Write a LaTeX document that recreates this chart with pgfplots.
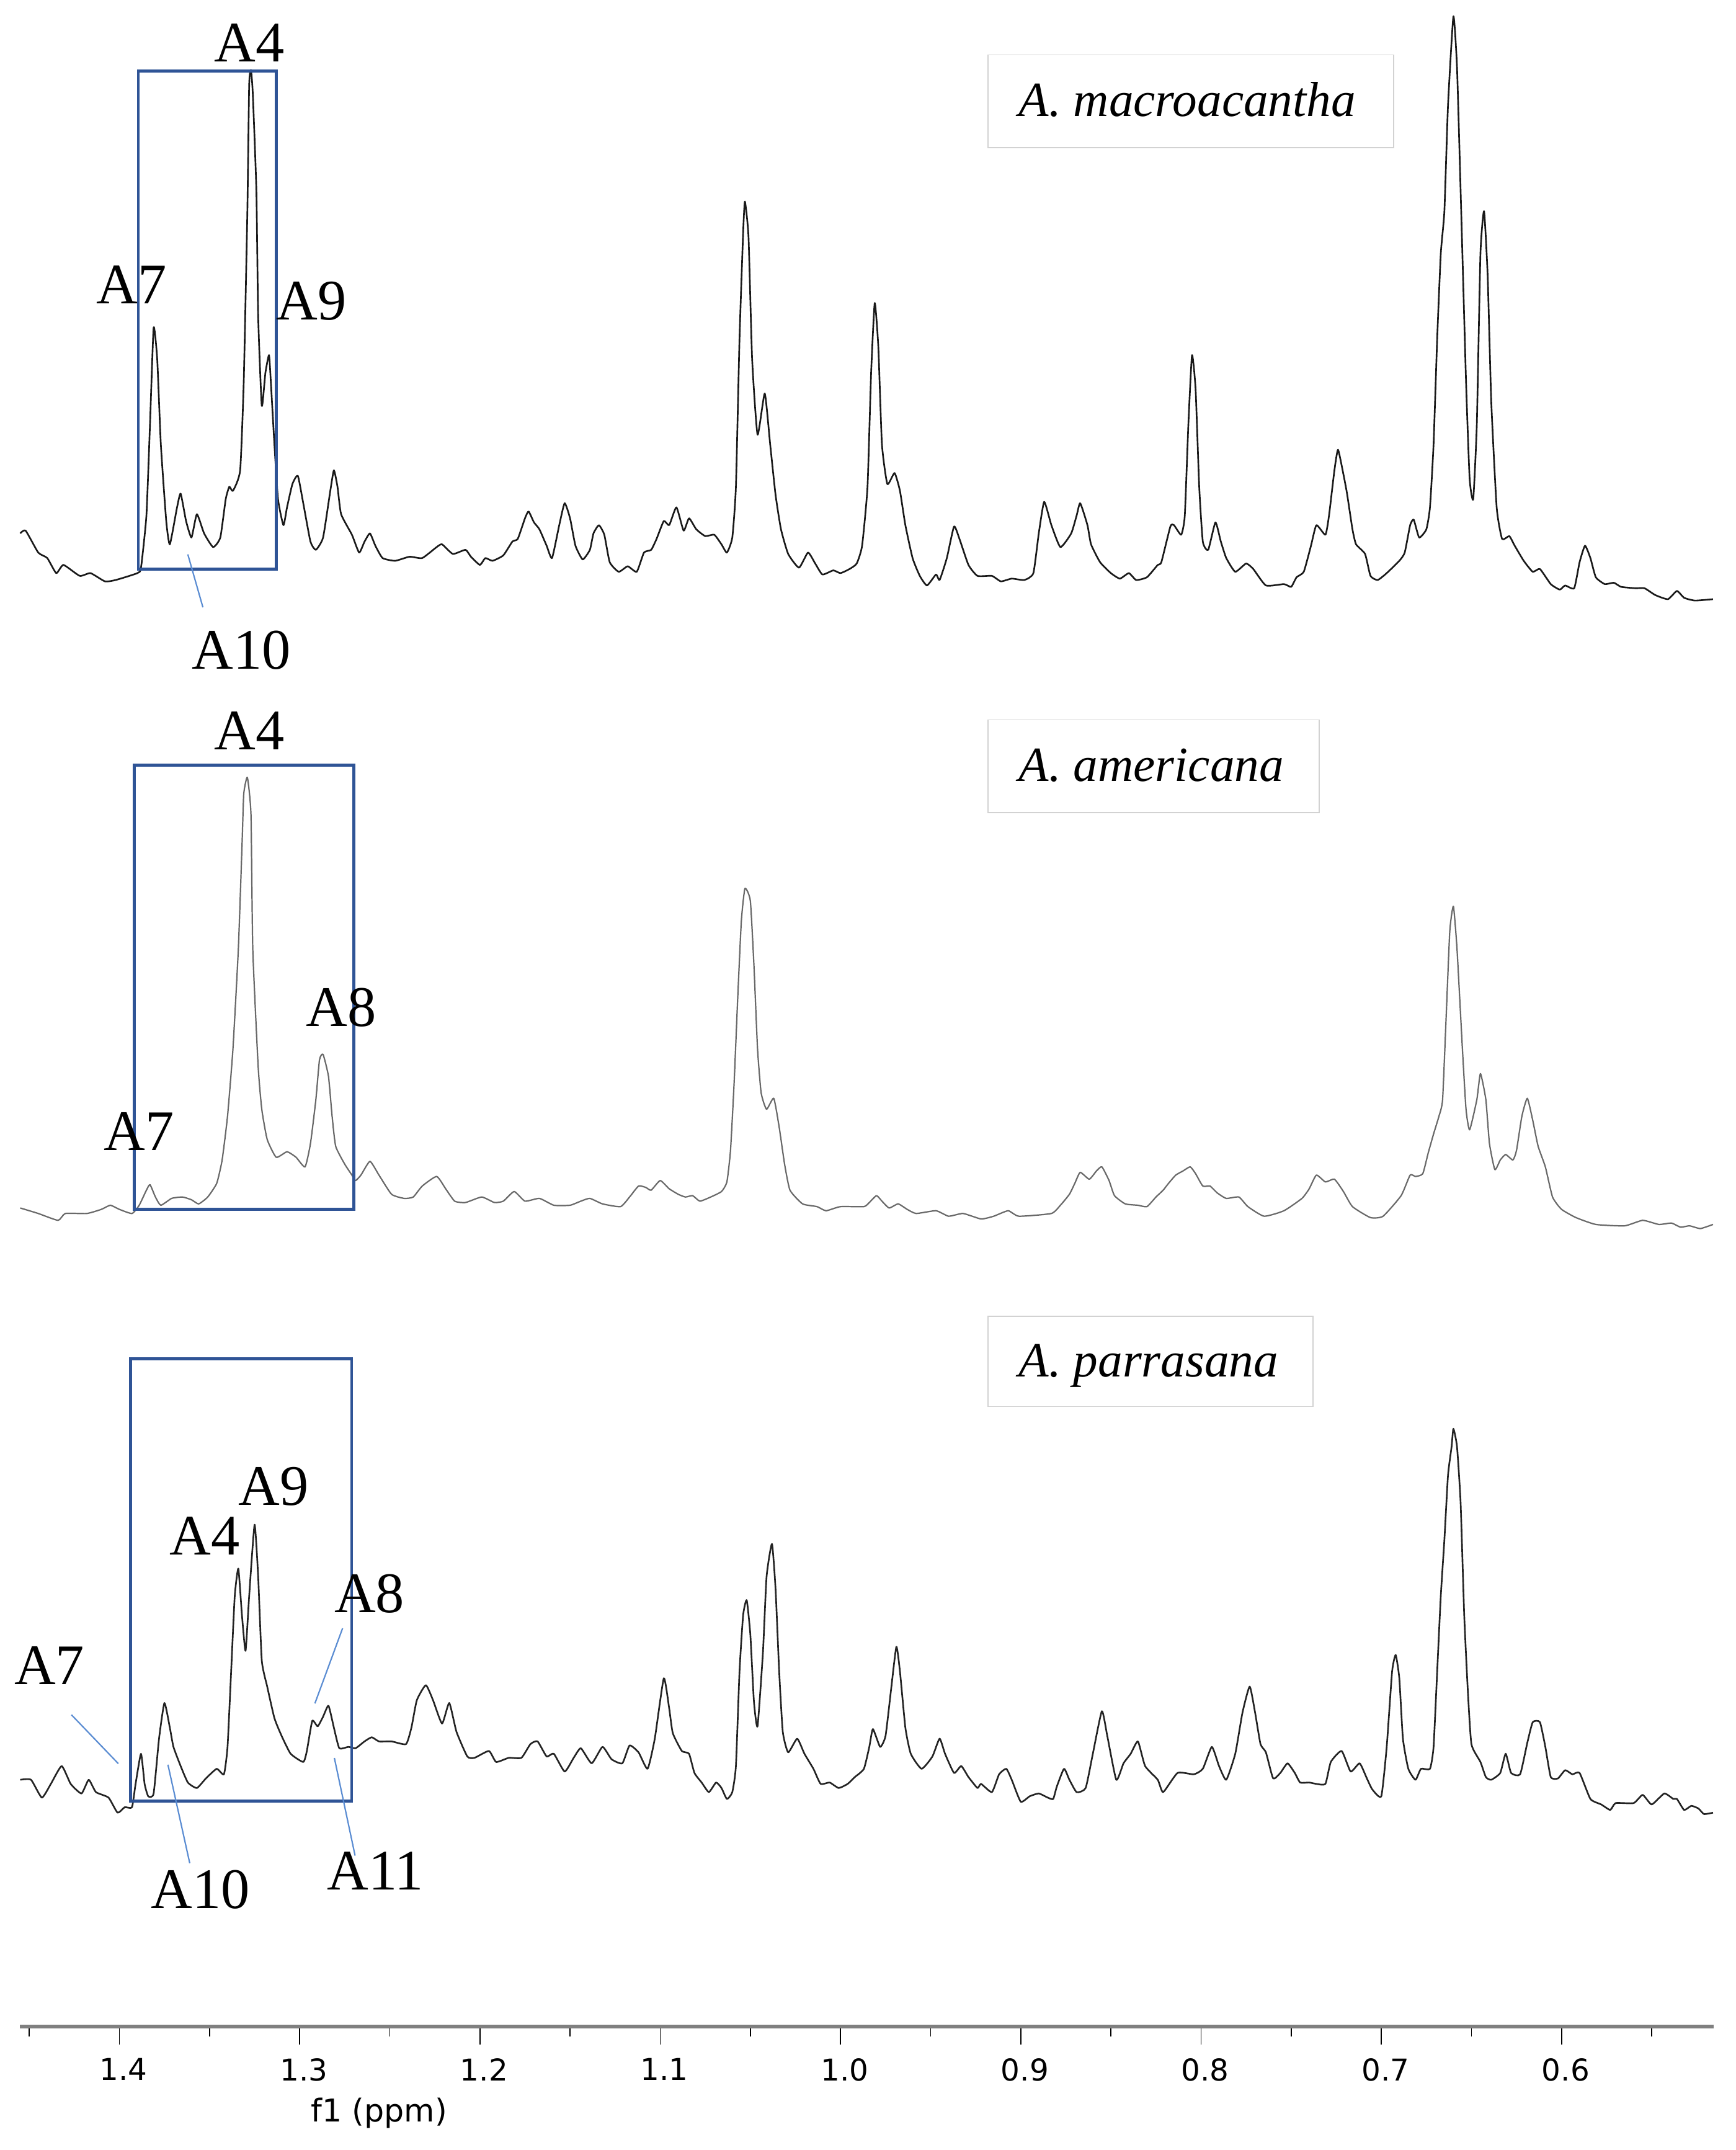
\documentclass[border=0pt]{standalone}
\usepackage{fontspec}
\setmainfont{Liberation Serif}
\newfontfamily\tickfont{DejaVu Sans}
\usepackage{pgfplots}
\pgfplotsset{compat=1.18}
\definecolor{boxblue}{RGB}{47,84,150}
\definecolor{leadblue}{RGB}{90,140,210}
\definecolor{spA}{RGB}{25,25,25}
\definecolor{spB}{RGB}{105,105,105}
\definecolor{spC}{RGB}{35,35,35}
\begin{document}
\begin{tikzpicture}
\begin{axis}[
  at={(7.25bp,45bp)}, anchor=south west,
  scale only axis, width=617.75bp, height=739bp,
  x dir=reverse, xmin=0.5156, xmax=1.4552, ymin=90, ymax=1568,
  clip=false,
  axis x line*=bottom, axis y line=none,
  x axis line style={draw=gray, line width=1.45bp, -},
  tick align=outside,
  xtick={1.4,1.3,1.2,1.1,1.0,0.9,0.8,0.7,0.6},
  xticklabels={1.4,1.3,1.2,1.1,1.0,0.9,0.8,0.7,0.6},
  minor xtick={1.45,1.35,1.25,1.15,1.05,0.95,0.85,0.75,0.65,0.55},
  major tick length=6.6bp, minor tick length=3.6bp,
  every tick/.style={black, line width=0.4bp},
  xticklabel style={font=\tickfont\fontsize{11}{11}\selectfont, xshift=1.5bp, yshift=-1.5bp},
  /pgf/number format/assume math mode=true,
  xlabel={f1 (ppm)},
  xlabel style={font=\tickfont\fontsize{11.5}{11.5}\selectfont, at={(axis description cs:0.2121,0)}, anchor=center, yshift=-31.5bp},
  every axis plot/.append style={smooth, tension=0.3, line join=round},
]
% A. macroacantha
\addplot[spA, line width=0.6bp] coordinates {
(1.455,1179) (1.452,1181) (1.445,1165) (1.440,1161) (1.435,1150) (1.431,1156) (1.422,1148) (1.416,1150) (1.408,1144) (1.402,1145)
(1.390,1150) (1.388,1154) (1.385,1192) (1.383,1259) (1.381,1329) (1.379,1306) (1.377,1244) (1.374,1188) (1.372,1171) (1.368,1198)
(1.366,1208) (1.363,1188) (1.360,1176) (1.357,1193) (1.353,1179) (1.348,1169) (1.344,1176) (1.341,1204) (1.339,1213) (1.337,1210)
(1.333,1225) (1.331,1290) (1.329,1414) (1.328,1506) (1.327,1517) (1.326,1500) (1.324,1429) (1.323,1337) (1.321,1272) (1.319,1296)
(1.317,1309) (1.316,1290) (1.314,1244) (1.312,1204) (1.309,1185) (1.307,1198) (1.304,1215) (1.301,1221) (1.298,1201) (1.294,1173)
(1.291,1167) (1.287,1176) (1.283,1210) (1.281,1225) (1.279,1213) (1.277,1193) (1.271,1178) (1.267,1165) (1.264,1173) (1.261,1179)
(1.258,1170) (1.254,1161) (1.247,1159) (1.239,1162) (1.232,1161) (1.224,1169) (1.221,1171) (1.215,1164) (1.208,1167) (1.205,1162)
(1.200,1156) (1.197,1161) (1.193,1159) (1.187,1163) (1.182,1173) (1.179,1175) (1.175,1190) (1.173,1195) (1.170,1187) (1.167,1182)
(1.163,1170) (1.160,1161) (1.156,1185) (1.153,1201) (1.150,1190) (1.147,1170) (1.143,1160) (1.139,1167) (1.137,1179) (1.134,1185)
(1.131,1178) (1.128,1158) (1.123,1151) (1.118,1155) (1.113,1151) (1.109,1165) (1.105,1167) (1.102,1175) (1.098,1188) (1.095,1185)
(1.091,1198) (1.087,1181) (1.084,1190) (1.080,1182) (1.075,1177) (1.070,1178) (1.066,1171) (1.063,1165) (1.060,1176) (1.058,1213)
(1.056,1321) (1.054,1398) (1.053,1421) (1.051,1395) (1.049,1306) (1.046,1251) (1.042,1281) (1.039,1244) (1.036,1207) (1.033,1182)
(1.029,1164) (1.023,1154) (1.018,1165) (1.014,1157) (1.010,1149) (1.004,1152) (1.000,1150) (0.995,1153) (0.991,1157) (0.988,1170)
(0.985,1213) (0.983,1296) (0.981,1347) (0.979,1315) (0.977,1244) (0.974,1215) (0.970,1223) (0.967,1210) (0.964,1185) (0.960,1161)
(0.956,1148) (0.952,1141) (0.947,1149) (0.945,1145) (0.941,1161) (0.937,1184) (0.934,1175) (0.929,1156) (0.924,1148) (0.916,1148)
(0.911,1144) (0.905,1146) (0.898,1145) (0.893,1150) (0.890,1179) (0.887,1202) (0.883,1185) (0.878,1169) (0.872,1179) (0.869,1192)
(0.867,1201) (0.863,1185) (0.861,1171) (0.856,1158) (0.850,1150) (0.845,1146) (0.840,1150) (0.836,1145) (0.830,1147) (0.824,1156)
(0.822,1158) (0.817,1184) (0.815,1185) (0.811,1178) (0.809,1192) (0.807,1259) (0.805,1309) (0.803,1284) (0.801,1213) (0.799,1173)
(0.796,1167) (0.792,1187) (0.789,1173) (0.786,1161) (0.781,1151) (0.775,1157) (0.771,1153) (0.764,1141) (0.754,1142) (0.750,1140)
(0.747,1147) (0.743,1151) (0.739,1170) (0.736,1185) (0.731,1178) (0.729,1192) (0.726,1225) (0.724,1240) (0.721,1222) (0.719,1208)
(0.716,1182) (0.714,1171) (0.709,1164) (0.706,1148) (0.702,1145) (0.697,1150) (0.690,1159) (0.687,1165) (0.684,1185) (0.682,1189)
(0.679,1176) (0.675,1182) (0.673,1198) (0.671,1244) (0.669,1321) (0.667,1383) (0.665,1414) (0.663,1491) (0.660,1556) (0.658,1519)
(0.656,1429) (0.653,1290) (0.651,1219) (0.649,1204) (0.647,1259) (0.645,1383) (0.643,1414) (0.641,1367) (0.639,1275) (0.636,1198)
(0.633,1175) (0.629,1177) (0.626,1170) (0.621,1159) (0.616,1151) (0.612,1153) (0.606,1142) (0.601,1138) (0.598,1141) (0.593,1139)
(0.590,1158) (0.587,1170) (0.584,1161) (0.581,1147) (0.576,1142) (0.571,1143) (0.567,1140) (0.559,1139) (0.554,1139) (0.548,1134)
(0.541,1131) (0.536,1137) (0.532,1132) (0.526,1130) (0.516,1131)
};
% A. americana
\addplot[spB, line width=0.5bp] coordinates {
(1.455,687) (1.445,683) (1.434,678) (1.430,683) (1.418,683) (1.410,686) (1.405,689) (1.400,686) (1.393,683) (1.389,689)
(1.385,700) (1.383,704) (1.380,695) (1.377,689) (1.371,694) (1.365,695) (1.360,693) (1.356,690) (1.351,695) (1.346,705)
(1.343,722) (1.340,754) (1.337,803) (1.334,876) (1.332,950) (1.331,989) (1.329,1001) (1.327,974) (1.326,876) (1.323,790)
(1.321,759) (1.318,737) (1.313,724) (1.307,728) (1.302,724) (1.297,717) (1.294,734) (1.291,766) (1.289,795) (1.287,799)
(1.284,783) (1.282,754) (1.280,732) (1.275,719) (1.271,711) (1.269,707) (1.266,711) (1.261,721) (1.256,711) (1.249,697)
(1.242,694) (1.237,695) (1.232,703) (1.224,710) (1.219,701) (1.214,692) (1.208,691) (1.199,695) (1.192,691) (1.187,692)
(1.181,699) (1.175,692) (1.167,694) (1.159,689) (1.150,689) (1.144,692) (1.139,694) (1.132,690) (1.122,688) (1.117,695)
(1.112,703) (1.108,702) (1.105,700) (1.100,707) (1.095,701) (1.090,697) (1.086,695) (1.082,696) (1.078,692) (1.072,695)
(1.066,699) (1.063,706) (1.061,729) (1.059,778) (1.057,840) (1.055,896) (1.053,920) (1.050,911) (1.048,864) (1.046,803)
(1.044,771) (1.041,759) (1.037,767) (1.034,746) (1.031,719) (1.028,700) (1.021,690) (1.013,688) (1.008,685) (1.000,688)
(0.987,688) (0.984,691) (0.980,696) (0.977,692) (0.973,687) (0.968,690) (0.963,686) (0.958,683) (0.947,685) (0.940,681)
(0.932,683) (0.922,679) (0.915,681) (0.907,685) (0.901,681) (0.883,683) (0.878,689) (0.873,697) (0.870,705) (0.867,713)
(0.862,708) (0.858,714) (0.855,717) (0.851,707) (0.848,696) (0.842,690) (0.835,689) (0.830,688) (0.825,695) (0.821,700)
(0.818,705) (0.814,711) (0.810,714) (0.806,717) (0.803,712) (0.799,703) (0.795,703) (0.791,698) (0.786,694) (0.779,695)
(0.774,688) (0.765,681) (0.754,685) (0.744,694) (0.740,701) (0.736,711) (0.731,706) (0.726,708) (0.721,699) (0.716,688)
(0.706,680) (0.699,681) (0.689,696) (0.684,711) (0.681,710) (0.677,712) (0.674,727) (0.671,741) (0.668,754) (0.666,766)
(0.664,827) (0.662,889) (0.660,907) (0.658,876) (0.655,803) (0.653,759) (0.651,744) (0.647,766) (0.645,785) (0.642,766)
(0.640,734) (0.637,715) (0.634,722) (0.631,726) (0.627,722) (0.625,729) (0.622,754) (0.619,767) (0.616,751) (0.613,732)
(0.609,717) (0.605,695) (0.600,686) (0.592,680) (0.581,675) (0.565,674) (0.555,678) (0.546,675) (0.539,676) (0.534,673)
(0.529,674) (0.523,672) (0.516,675)
};
% A. parrasana
\addplot[spC, line width=0.6bp] coordinates {
(1.455,270) (1.449,270) (1.443,257) (1.438,267) (1.432,280) (1.427,267) (1.421,260) (1.417,270) (1.413,261) (1.406,257)
(1.401,246) (1.397,250) (1.393,250) (1.391,267) (1.388,289) (1.386,267) (1.384,258) (1.381,260) (1.378,300) (1.375,326)
(1.372,308) (1.370,294) (1.366,280) (1.362,268) (1.357,264) (1.352,271) (1.346,278) (1.342,274) (1.340,294) (1.338,349)
(1.336,404) (1.334,424) (1.332,390) (1.330,364) (1.328,404) (1.325,456) (1.323,418) (1.321,357) (1.318,338) (1.314,315)
(1.310,302) (1.305,289) (1.298,283) (1.296,291) (1.293,313) (1.290,309) (1.287,316) (1.284,324) (1.281,308) (1.278,293)
(1.273,294) (1.269,293) (1.264,298) (1.260,301) (1.256,298) (1.249,298) (1.241,296) (1.238,308) (1.235,328) (1.230,339)
(1.226,328) (1.221,311) (1.217,326) (1.213,305) (1.207,287) (1.203,286) (1.195,291) (1.191,283) (1.184,286) (1.177,286)
(1.172,296) (1.168,298) (1.163,287) (1.159,289) (1.153,276) (1.148,286) (1.144,293) (1.138,282) (1.132,294) (1.127,285)
(1.121,282) (1.117,295) (1.112,290) (1.107,278) (1.103,300) (1.098,344) (1.095,322) (1.093,304) (1.088,291) (1.084,289)
(1.081,275) (1.077,268) (1.073,261) (1.069,268) (1.066,264) (1.063,256) (1.060,261) (1.058,280) (1.056,349) (1.054,390)
(1.052,401) (1.050,376) (1.048,327) (1.046,309) (1.043,363) (1.041,418) (1.038,442) (1.036,409) (1.034,349) (1.032,305)
(1.029,290) (1.024,300) (1.020,289) (1.015,278) (1.011,267) (1.006,268) (1.001,264) (0.996,267) (0.992,272) (0.987,278)
(0.984,294) (0.982,307) (0.978,294) (0.975,302) (0.972,335) (0.969,367) (0.967,349) (0.964,308) (0.961,289) (0.955,278)
(0.949,287) (0.945,300) (0.942,289) (0.937,275) (0.933,280) (0.929,272) (0.924,264) (0.922,267) (0.916,261) (0.912,274)
(0.908,278) (0.905,270) (0.900,254) (0.895,258) (0.890,260) (0.885,257) (0.882,256) (0.880,265) (0.876,278) (0.873,270)
(0.869,261) (0.864,264) (0.860,289) (0.855,320) (0.852,302) (0.847,270) (0.843,282) (0.839,289) (0.835,298) (0.831,280)
(0.824,270) (0.821,261) (0.813,275) (0.804,274) (0.799,278) (0.794,294) (0.790,280) (0.786,270) (0.781,289) (0.777,319)
(0.773,338) (0.770,319) (0.767,296) (0.764,290) (0.760,271) (0.756,275) (0.752,282) (0.748,275) (0.745,268) (0.740,268)
(0.736,267) (0.731,267) (0.728,283) (0.722,291) (0.717,276) (0.712,282) (0.708,271) (0.705,263) (0.700,258) (0.697,294)
(0.694,349) (0.692,361) (0.690,344) (0.688,300) (0.685,278) (0.681,270) (0.678,278) (0.673,278) (0.671,294) (0.669,349)
(0.667,404) (0.665,445) (0.663,492) (0.661,513) (0.660,526) (0.658,513) (0.656,472) (0.654,390) (0.652,335) (0.650,296)
(0.645,283) (0.642,272) (0.639,270) (0.634,275) (0.631,289) (0.628,275) (0.623,274) (0.619,297) (0.616,312) (0.612,312)
(0.609,294) (0.606,272) (0.602,271) (0.598,277) (0.594,274) (0.590,275) (0.584,256) (0.578,252) (0.573,248) (0.570,253)
(0.560,253) (0.555,259) (0.550,252) (0.543,260) (0.538,256) (0.536,256) (0.532,248) (0.528,251) (0.524,249) (0.521,245)
(0.516,246)
};
\end{axis}
\begin{scope}[x=0.5bp, y=-0.5bp, shift={(0,-1568)}]
  % species boxes
  \draw[gray!35, line width=0.4bp] (720.8,40) rectangle (1016.4,107.8);
  \draw[gray!35, line width=0.4bp] (720.8,525) rectangle (962.3,592.5);
  \draw[gray!35, line width=0.4bp] (720.8,960) rectangle (957.7,1025.8);
  \node[anchor=base west, inner sep=0, font=\fontsize{18}{18}\selectfont\itshape] at (742.8,84.9) {A. macroacantha};
  \node[anchor=base west, inner sep=0, font=\fontsize{18}{18}\selectfont\itshape] at (742.8,570) {A. americana};
  \node[anchor=base west, inner sep=0, font=\fontsize{18}{18}\selectfont\itshape] at (742.8,1004) {A. parrasana};
  % blue boxes
  \draw[boxblue, line width=1.1bp] (100.9,51.9) rectangle (201.7,415.1);
  \draw[boxblue, line width=1.1bp] (98.1,558.1) rectangle (258.2,882.0);
  \draw[boxblue, line width=1.1bp] (95.4,990.8) rectangle (256.5,1313.6);
  % leader lines
  \draw[leadblue, line width=0.5bp] (137,404.3) -- (148,442.9);
  \draw[leadblue, line width=0.5bp] (52.1,1250.6) -- (86.3,1286.2);
  \draw[leadblue, line width=0.5bp] (122.5,1287) -- (138.4,1358.8);
  \draw[leadblue, line width=0.5bp] (249.9,1187.5) -- (229.7,1242.3);
  \draw[leadblue, line width=0.5bp] (243.9,1282.1) -- (259,1353.3);
  % peak labels
  \begin{scope}[every node/.style={anchor=base, inner sep=0, font=\fontsize{21}{21}\selectfont}]
    \node at (182,44.8) {A4};
    \node at (96,221.6) {A7};
    \node at (227,233) {A9};
    \node at (176,488) {A10};
    \node at (182,546.6) {A4};
    \node at (249,748.6) {A8};
    \node at (101.5,838.9) {A7};
    \node at (199.5,1097.9) {A9};
    \node at (149.5,1134.1) {A4};
    \node at (269.5,1176) {A8};
    \node at (36,1228.6) {A7};
    \node at (146.3,1391.7) {A10};
    \node at (273.8,1378) {A11};
  \end{scope}
\end{scope}
\pgfresetboundingbox
\useasboundingbox (0,0) rectangle (633bp,784bp);
\end{tikzpicture}
\end{document}
